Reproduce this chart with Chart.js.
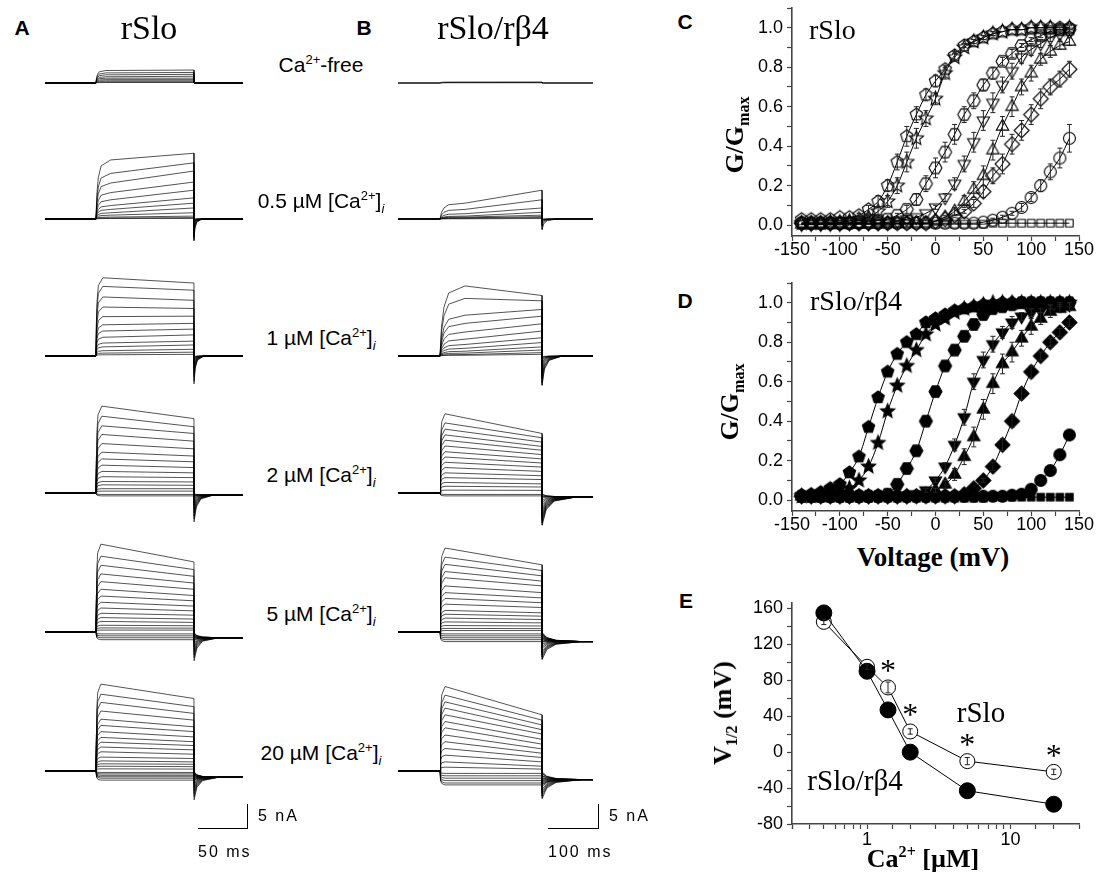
<!DOCTYPE html>
<html>
<head>
<meta charset="utf-8">
<script src="https://cdn.jsdelivr.net/npm/chart.js@4.4.1/dist/chart.umd.min.js"></script>
<style>
  body { margin: 0; background: #fff; overflow: hidden; }
  #fig { position: relative; width: 1101px; height: 876px; }
  #fig canvas { position: absolute; }
  #fig div { position: absolute; white-space: nowrap; line-height: 1; color: #000; }
  sup, sub { font-size: 0.62em; line-height: 0; }
  .sans { font-family: 'Liberation Sans', Arial, sans-serif; }
  .serif { font-family: 'Liberation Serif', 'Times New Roman', serif; }
</style>
</head>
<body>
<div id="fig"></div>
<script>
// ---- current traces (nA), one value per voltage step ----
// A: rSlo, B: rSlo/rb4. "Peak" = level at end of activation, "End" = level at end of the step
const aFreePeak = [2.6, 2.1, 1.7, 1.3, 1.0, 0.7, 0.45, 0.25, 0.1];
const aFreeEnd  = [2.7, 2.2, 1.8, 1.4, 1.0, 0.7, 0.45, 0.25, 0.1];
const a05Peak = [12.3, 9.5, 7.5, 5.5, 4.0, 2.8, 2.0, 1.3, 0.8, 0.4, 0.2, 0.1];
const a05End  = [13.7, 11.7, 10.0, 7.7, 6.0, 4.4, 3.3, 2.3, 1.3, 0.6, 0.3, 0.1];
const a1Peak = [16.3, 14.5, 12.3, 10.2, 8.2, 6.5, 5.2, 3.9, 2.7, 1.9, 1.1, 0.6, 0.25];
const a1End  = [15.2, 13.7, 11.6, 9.9, 8.3, 6.8, 5.6, 4.4, 3.1, 2.3, 1.4, 0.8, 0.35];
const a2Peak = [18.1, 16.0, 14.0, 12.2, 10.3, 8.5, 7.1, 5.8, 4.5, 3.4, 2.4, 1.7, 0.9, 0.4, -0.3, -0.6];
const a2End  = [15.5, 13.8, 12.4, 10.8, 9.2, 7.7, 6.5, 5.3, 4.2, 3.2, 2.3, 1.6, 0.9, 0.4, -0.3, -0.6];
const a5Peak = [18.3, 15.8, 13.9, 12.1, 10.5, 8.9, 7.5, 6.2, 5.0, 3.9, 3.0, 2.2, 1.4, 0.85, 0.4, -0.4, -0.8, -1.2, -1.6];
const a5End  = [14.6, 13.0, 11.6, 10.2, 8.9, 7.6, 6.5, 5.4, 4.4, 3.5, 2.7, 2.0, 1.3, 0.8, 0.4, -0.4, -0.8, -1.2, -1.6];
const a20Peak = [18.1, 16.0, 14.3, 12.5, 10.8, 9.5, 8.2, 7.0, 6.0, 5.0, 4.0, 2.9, 2.1, 1.5, 1.0, 0.45, -0.3, -0.6, -0.9, -1.2, -1.5, -1.9];
const a20End  = [15.1, 13.4, 12.0, 10.6, 9.2, 8.2, 7.1, 6.1, 5.3, 4.4, 3.5, 2.6, 1.9, 1.4, 0.9, 0.4, -0.3, -0.6, -0.9, -1.2, -1.5, -1.9];

const bFreePeak = [0.2, 0.1, 0.05];
const bFreeEnd  = [0.2, 0.12, 0.05];
const b05Peak = [3.3, 2.0, 1.1, 0.6, 0.4, 0.25, 0.15, 0.05];
const b05End  = [6.0, 4.0, 2.3, 1.4, 0.8, 0.5, 0.3, 0.1];
const b1Peak = [14.6, 12.0, 8.5, 6.8, 5.0, 3.5, 2.4, 1.6, 1.0, 0.6, 0.3, 0.15];
const b1End  = [12.6, 11.5, 9.7, 8.3, 6.7, 5.2, 3.8, 2.8, 1.9, 1.25, 0.7, 0.35];
const b2Peak = [16.5, 14.6, 13.3, 12.1, 11.0, 9.8, 8.6, 7.5, 6.4, 5.3, 4.2, 3.2, 2.2, 1.4, 0.6, -0.3, -0.6];
const b2End  = [12.4, 11.5, 10.6, 9.7, 8.9, 8.0, 7.1, 6.25, 5.4, 4.5, 3.6, 2.8, 1.9, 1.25, 0.55, -0.3, -0.6];
const b5Peak = [17.5, 15.6, 14.1, 12.6, 11.3, 9.6, 8.2, 7.0, 5.8, 4.5, 3.7, 2.9, 2.1, 1.35, 0.75, 0.3, -0.4, -0.8, -1.2, -1.6, -2.0];
const b5End  = [14.0, 12.8, 11.7, 10.6, 9.6, 8.2, 7.1, 6.1, 5.1, 4.0, 3.3, 2.6, 1.9, 1.25, 0.7, 0.3, -0.4, -0.8, -1.2, -1.6, -2.0];
const b20Peak = [17.6, 15.8, 14.4, 13.1, 11.7, 10.3, 9.0, 7.5, 6.1, 4.7, 3.3, 1.9, 0.8, -0.5, -1.0, -1.5, -2.0, -2.5, -2.9];
const b20End  = [11.7, 10.6, 9.6, 8.6, 7.7, 6.6, 5.6, 4.6, 3.7, 2.8, 1.9, 1.0, 0.4, -0.5, -1.0, -1.5, -2.0, -2.5, -2.9];

// ---- G/Gmax vs voltage ----
const volts = [-140,-130,-120,-110,-100,-90,-80,-70,-60,-50,-40,-30,-20,-10,0,10,20,30,40,50,60,70,80,90,100,110,120,130,140];
// C: rSlo (open symbols)
const cPent = [0.03,0.03,0.03,0.03,0.04,0.04,0.05,0.08,0.12,0.20,0.32,0.45,0.56,0.66,0.73,0.79,0.86,0.91,0.93,0.95,0.97,0.98,0.99,0.99,1.00,1.00,1.00,1.00,1.00];
const cStar = [0.01,0.01,0.01,0.015,0.015,0.02,0.03,0.04,0.07,0.12,0.20,0.32,0.44,0.54,0.64,0.77,0.85,0.90,0.93,0.95,0.97,0.98,0.99,0.99,1.00,1.00,1.00,0.99,1.00];
const cHex  = [0.01,0.01,0.01,0.01,0.01,0.01,0.015,0.02,0.025,0.03,0.05,0.08,0.13,0.21,0.29,0.37,0.46,0.56,0.63,0.71,0.77,0.83,0.87,0.91,0.94,0.96,0.98,0.99,0.99];
const cTriDn = [0.005,0.005,0.005,0.005,0.005,0.01,0.01,0.01,0.01,0.015,0.02,0.03,0.04,0.06,0.09,0.14,0.21,0.31,0.42,0.53,0.62,0.71,0.78,0.85,0.89,0.92,0.95,0.97,0.98];
const cTriUp = [0.005,0.005,0.005,0.005,0.005,0.005,0.005,0.005,0.005,0.01,0.01,0.01,0.01,0.01,0.02,0.04,0.07,0.12,0.18,0.25,0.38,0.50,0.60,0.70,0.77,0.84,0.88,0.91,0.93];
const cDia  = [0.01,0.01,0.01,0.01,0.01,0.01,0.01,0.01,0.01,0.01,0.01,0.01,0.01,0.01,0.02,0.03,0.05,0.07,0.11,0.17,0.25,0.31,0.41,0.48,0.56,0.64,0.70,0.74,0.79];
const cCirc = [0.01,0.01,0.01,0.01,0.01,0.01,0.01,0.01,0.01,0.01,0.01,0.01,0.01,0.01,0.01,0.01,0.01,0.01,0.01,0.015,0.025,0.04,0.06,0.09,0.14,0.20,0.27,0.34,0.44];
const cSq   = [0.005,0.005,0.005,0.005,0.005,0.005,0.005,0.005,0.005,0.005,0.005,0.005,0.005,0.005,0.005,0.005,0.005,0.005,0.005,0.005,0.01,0.01,0.01,0.01,0.01,0.01,0.01,0.01,0.01];
const cPentErr = [0,0,0,0,0,0,0.01,0.02,0.03,0.03,0.04,0.05,0.04,0.03,0.03,0.02,0.02,0.01,0.01,0.01,0.01,0,0,0,0,0,0,0.01,0.01];
const cStarErr = [0,0,0,0,0,0,0,0.01,0.02,0.03,0.04,0.05,0.05,0.04,0.03,0.03,0.02,0.02,0.01,0.01,0.01,0,0,0,0,0,0,0,0];
const cHexErr  = [0,0,0,0,0,0,0,0,0,0,0.01,0.02,0.03,0.04,0.05,0.05,0.05,0.04,0.04,0.03,0.03,0.02,0.02,0.01,0.01,0.01,0.01,0,0];
const cTriDnErr = [0,0,0,0,0,0,0,0,0,0,0,0,0,0,0.01,0.02,0.03,0.04,0.05,0.05,0.05,0.04,0.04,0.03,0.03,0.02,0.02,0.01,0.01];
const cTriUpErr = [0,0,0,0,0,0,0,0,0,0,0,0,0,0,0,0.01,0.02,0.03,0.04,0.05,0.05,0.05,0.05,0.04,0.04,0.03,0.03,0.02,0.02];
const cDiaErr  = [0,0,0,0,0,0,0,0,0,0,0,0,0,0,0,0,0,0.01,0.02,0.03,0.04,0.05,0.05,0.05,0.05,0.05,0.04,0.04,0.04];
const cCircErr = [0,0,0,0,0,0,0,0,0,0,0,0,0,0,0,0,0,0,0,0,0.01,0.01,0.01,0.02,0.02,0.03,0.04,0.05,0.07];
// D: rSlo/rb4 (filled symbols)
const dPent = [0.025,0.03,0.04,0.06,0.08,0.14,0.22,0.37,0.52,0.65,0.74,0.80,0.84,0.90,0.92,0.94,0.96,0.97,0.98,0.99,0.99,1.0,1.0,1.0,1.0,1.0,1.0,1.0,1.0];
const dStar = [0.02,0.02,0.025,0.03,0.04,0.06,0.10,0.17,0.29,0.45,0.58,0.68,0.76,0.84,0.89,0.92,0.95,0.97,0.98,0.99,1.0,1.0,1.0,1.0,1.0,1.0,1.0,1.0,1.0];
const dHex  = [0.02,0.02,0.02,0.02,0.02,0.02,0.02,0.02,0.02,0.03,0.08,0.16,0.25,0.40,0.55,0.68,0.76,0.83,0.89,0.94,0.97,0.98,0.99,1.0,1.0,1.0,1.0,1.0,1.0];
const dTriDn = [0.02,0.02,0.02,0.02,0.02,0.02,0.02,0.02,0.02,0.02,0.02,0.02,0.03,0.05,0.10,0.17,0.28,0.42,0.60,0.71,0.79,0.85,0.90,0.93,0.95,0.96,0.98,0.99,0.99];
const dTriUp = [0.02,0.02,0.02,0.02,0.02,0.02,0.02,0.02,0.02,0.02,0.02,0.02,0.02,0.03,0.05,0.08,0.13,0.22,0.32,0.46,0.59,0.69,0.75,0.82,0.88,0.92,0.955,0.97,0.98];
const dDia  = [0.02,0.02,0.02,0.02,0.02,0.02,0.02,0.02,0.02,0.02,0.02,0.02,0.02,0.02,0.02,0.02,0.02,0.03,0.06,0.10,0.17,0.28,0.40,0.54,0.65,0.73,0.80,0.85,0.90];
const dCirc = [0.02,0.02,0.02,0.02,0.02,0.02,0.02,0.02,0.02,0.02,0.02,0.02,0.02,0.02,0.02,0.02,0.02,0.02,0.02,0.02,0.02,0.02,0.025,0.03,0.055,0.10,0.15,0.23,0.33];
const dSq   = [0.01,0.01,0.01,0.01,0.01,0.01,0.01,0.01,0.01,0.01,0.01,0.01,0.01,0.01,0.01,0.01,0.01,0.01,0.01,0.01,0.015,0.015,0.015,0.015,0.015,0.015,0.015,0.015,0.015];
const dTriDnErr = [0,0,0,0,0,0,0,0,0,0,0,0,0,0.01,0.01,0.02,0.03,0.04,0.04,0.04,0.04,0.03,0.03,0.02,0.02,0.01,0.01,0.01,0.01];
const dTriUpErr = [0,0,0,0,0,0,0,0,0,0,0,0,0,0,0.01,0.02,0.03,0.04,0.05,0.05,0.05,0.05,0.05,0.04,0.04,0.03,0.03,0.02,0.02];
const dDiaErr   = [0,0,0,0,0,0,0,0,0,0,0,0,0,0,0,0,0,0,0,0.01,0.02,0.03,0.03,0.03,0.03,0.02,0.02,0.02,0.02];

// ---- E: V1/2 vs [Ca2+] ----
const conc = [0.5, 1, 1.4, 2, 5, 20];
const v12Slo = [145, 95, 72, 23, -10, -22];
const v12SloErr = [3, 3, 6, 3, 4, 3];
const v12B4 = [155, 90, 47, 0, -43, -58];
const sigConc = [1.4, 2, 5, 20];

// ---- layout ----
const fig = document.getElementById('fig');
Chart.defaults.font.family = "'Liberation Sans', Arial, sans-serif";
Chart.defaults.color = '#000';

function addCanvas(left, top, w, h) {
  const c = document.createElement('canvas');
  c.width = w; c.height = h;
  c.style.left = left + 'px'; c.style.top = top + 'px';
  fig.appendChild(c);
  return c;
}
function txt(html, x, y, cls, css, mode) {
  const d = document.createElement('div');
  d.className = cls;
  d.innerHTML = html;
  let tf = 'translate(-50%,-50%)';
  if (mode === 'left') tf = 'translate(0,-50%)';
  if (mode === 'rot') tf = 'translate(-50%,-50%) rotate(-90deg)';
  d.style.cssText = `left:${x}px;top:${y}px;transform:${tf};${css || ''}`;
  fig.appendChild(d);
}

// ---- panels A and B ----
const pxPerNA = 24 / 5;       // 5 nA scale bar = 24 px
const baseY = [83, 219, 356, 493, 632, 771];
const rowLabels = ['Ca<sup>2+</sup>-free', '0.5 &micro;M [Ca<sup>2+</sup>]<sub><i>i</i></sub>', '1 &micro;M [Ca<sup>2+</sup>]<sub><i>i</i></sub>',
  '2 &micro;M [Ca<sup>2+</sup>]<sub><i>i</i></sub>', '5 &micro;M [Ca<sup>2+</sup>]<sub><i>i</i></sub>', '20 &micro;M [Ca<sup>2+</sup>]<sub><i>i</i></sub>'];
const colA = { left: 45, pxPerMs: 0.98, t0: 52, t1: 152, tEnd: 202 };
const colB = { left: 398, pxPerMs: 0.5, t0: 84, t1: 288, tEnd: 390 };
const rowsA = [
  { peak: aFreePeak, end: aFreeEnd, rise: 10, tailMin: 0, tailDur: 5, tailLvl: 0 },
  { peak: a05Peak, end: a05End, rise: 15, tailMin: -4.5, tailDur: 8, tailLvl: 0 },
  { peak: a1Peak, end: a1End, rise: 7, tailMin: -5.8, tailDur: 10, tailLvl: 0 },
  { peak: a2Peak, end: a2End, rise: 6, tailMin: -6.0, tailDur: 20, tailLvl: -0.4 },
  { peak: a5Peak, end: a5End, rise: 5, tailMin: -6.0, tailDur: 25, tailLvl: -1.2 },
  { peak: a20Peak, end: a20End, rise: 5, tailMin: -6.0, tailDur: 25, tailLvl: -1.3 }];
const rowsB = [
  { peak: bFreePeak, end: bFreeEnd, rise: 20, tailMin: 0, tailDur: 10, tailLvl: 0 },
  { peak: b05Peak, end: b05End, rise: 50, tailMin: -2.2, tailDur: 30, tailLvl: 0 },
  { peak: b1Peak, end: b1End, rise: 50, tailMin: -6.1, tailDur: 40, tailLvl: 0 },
  { peak: b2Peak, end: b2End, rise: 10, tailMin: -6.7, tailDur: 70, tailLvl: -0.8 },
  { peak: b5Peak, end: b5End, rise: 10, tailMin: -5.7, tailDur: 80, tailLvl: -2.0 },
  { peak: b20Peak, end: b20End, rise: 10, tailMin: -5.7, tailDur: 80, tailLvl: -1.8 }];

const riseShape = [[0.06, 0.42], [0.16, 0.7], [0.35, 0.9], [1, 1]];
const tailShape = [[0.005, 1], [0.12, 0.45], [0.35, 0.15], [1, 0]];

function tracePts(pk, end, maxEnd, col, k) {
  const pts = [{ x: 0, y: 0 }, { x: col.t0, y: 0 }];
  riseShape.forEach(([f, g]) => pts.push({ x: col.t0 + f * k.rise, y: pk * g }));
  pts.push({ x: col.t1, y: end });
  const a = end > 0 ? k.tailMin * end / maxEnd : end;
  tailShape.forEach(([f, g]) => pts.push({ x: col.t1 + f * k.tailDur, y: k.tailLvl + (a - k.tailLvl) * g }));
  pts.push({ x: col.tEnd, y: k.tailLvl });
  return pts;
}

function traceChart(col, row, base) {
  const W = 215, H = 164, above = 100;
  const cv = addCanvas(col.left, base - above, W, H);
  const maxEnd = Math.max(...row.end);
  const datasets = row.peak.map((pk, i) => ({
    data: tracePts(pk, row.end[i], maxEnd, col, row),
    showLine: true, borderColor: 'rgba(0,0,0,0.85)', borderWidth: 0.8, pointRadius: 0, tension: 0
  }));
  new Chart(cv, {
    type: 'scatter',
    data: { datasets },
    options: {
      responsive: false, animation: false, events: [], devicePixelRatio: 1,
      layout: { padding: 0 },
      plugins: { legend: { display: false }, tooltip: { enabled: false } },
      scales: {
        x: { type: 'linear', display: false, min: 0, max: W / col.pxPerMs },
        y: { display: false, min: -(H - above) / pxPerNA, max: above / pxPerNA }
      }
    }
  });
}
rowsA.forEach((r, i) => traceChart(colA, r, baseY[i]));
rowsB.forEach((r, i) => traceChart(colB, r, baseY[i]));
rowLabels.forEach((l, i) => txt(l, 321, baseY[i] - 19, 'sans', 'font-size:21px'));

// scale bars
function scaleBar(left, w, label) {
  const d = document.createElement('div');
  d.style.cssText = `left:${left}px;top:804px;width:${w}px;height:24px;border-right:1.5px solid #000;border-bottom:1.5px solid #000;`;
  fig.appendChild(d);
  txt('5 nA', left + w + 11, 816, 'sans', 'font-size:16px;letter-spacing:2px', 'left');
  txt(label, left, 852, 'sans', 'font-size:16px;letter-spacing:2px', 'left');
}
scaleBar(198, 49, '50 ms');
scaleBar(548, 50, '100 ms');

// ---- markers ----
const polys = { pent: [5, -Math.PI / 2], hex: [6, 0], tdn: [3, Math.PI / 2], tup: [3, -Math.PI / 2], dia: [4, 0], sq: [4, Math.PI / 4] };
function marker(shape, filled, size) {
  const s = size + 4;
  const c = document.createElement('canvas');
  c.width = c.height = s;
  const g = c.getContext('2d');
  g.translate(s / 2, s / 2);
  const r = size / 2;
  g.beginPath();
  if (shape === 'circle') g.arc(0, 0, r * 0.92, 0, 2 * Math.PI);
  else if (shape === 'star') {
    for (let i = 0; i < 10; i++) {
      const a = -Math.PI / 2 + i * Math.PI / 5, rr = i % 2 ? r * 0.45 : r;
      g.lineTo(rr * Math.cos(a), rr * Math.sin(a));
    }
    g.closePath();
  } else {
    const [n, rot] = polys[shape];
    const rr = shape === 'sq' ? r * 0.95 : (n === 3 ? r * 1.1 : r);
    for (let i = 0; i < n; i++) {
      const a = rot + i * 2 * Math.PI / n;
      g.lineTo(rr * Math.cos(a), rr * Math.sin(a));
    }
    g.closePath();
  }
  if (filled) { g.fillStyle = '#000'; g.fill(); }
  g.lineWidth = 1.1; g.strokeStyle = '#000'; g.stroke();
  return c;
}

// ---- plugins ----
const errorBars = {
  id: 'errorBars',
  afterDatasetsDraw(chart) {
    const ctx = chart.ctx, ys = chart.scales.y;
    ctx.save();
    ctx.strokeStyle = '#222'; ctx.lineWidth = 1;
    chart.data.datasets.forEach((ds, i) => {
      if (!ds.err) return;
      chart.getDatasetMeta(i).data.forEach((el, j) => {
        const e = ds.err[j];
        if (!e) return;
        const v = ds.data[j].y;
        const yt = ys.getPixelForValue(v + e), yb = ys.getPixelForValue(v - e);
        ctx.beginPath();
        ctx.moveTo(el.x, yt); ctx.lineTo(el.x, yb);
        ctx.moveTo(el.x - 2.5, yt); ctx.lineTo(el.x + 2.5, yt);
        ctx.moveTo(el.x - 2.5, yb); ctx.lineTo(el.x + 2.5, yb);
        ctx.stroke();
      });
    });
    ctx.restore();
  }
};
const asterisks = {
  id: 'asterisks',
  afterDatasetsDraw(chart) {
    const ctx = chart.ctx, meta = chart.getDatasetMeta(1);
    ctx.save();
    ctx.font = "32px 'Liberation Serif'";
    ctx.textAlign = 'center'; ctx.textBaseline = 'alphabetic';
    sigConc.forEach(c => {
      const el = meta.data[conc.indexOf(c)];
      ctx.fillText('*', el.x, el.y - 6);
    });
    ctx.restore();
  }
};

const tickFont = { family: "'Liberation Sans', Arial, sans-serif", size: 18 };
const axisCol = '#444';
function axisBase(extra) {
  return Object.assign({
    grid: { drawOnChartArea: false, tickLength: 5, color: axisCol, tickWidth: 1.2 },
    border: { color: axisCol, width: 1.6 }
  }, extra);
}
// keep the plot area exactly where the layout puts it
const fixY = w => s => { s.width = w; s.paddingTop = 0; s.paddingBottom = 0; };
const fixX = h => s => { s.height = h; s.paddingLeft = 0; s.paddingRight = 0; };

function gvChart(top, series) {
  const cv = addCanvas(700, top, 400, 266);
  const datasets = series.map(s => ({
    data: volts.map((v, i) => ({ x: v, y: s.vals[i] })),
    err: s.err,
    pointStyle: marker(s.shape, s.filled, s.size || 13),
    pointRadius: 7,
    showLine: true, borderColor: '#000', borderWidth: 1,
    cubicInterpolationMode: 'monotone'
  }));
  new Chart(cv, {
    type: 'scatter',
    data: { datasets },
    options: {
      responsive: false, animation: false, events: [], devicePixelRatio: 1,
      layout: { padding: { top: 8, right: 21, left: 0, bottom: 0 } },
      plugins: { legend: { display: false }, tooltip: { enabled: false } },
      scales: {
        x: axisBase({
          type: 'linear', min: -150, max: 150,
          ticks: { stepSize: 25, autoSkip: false, includeBounds: false, maxRotation: 0, padding: -2, font: tickFont,
            callback: v => (v % 50 === 0 ? String(v) : '') },
          afterFit: fixX(30)
        }),
        y: axisBase({
          min: -0.055, max: 1.1,
          ticks: { stepSize: 0.1, autoSkip: false, includeBounds: false, padding: 4, font: tickFont,
            callback: v => (Math.round(v * 10) % 2 === 0 ? Math.abs(v).toFixed(1) : '') },
          afterFit: fixY(92)
        })
      }
    },
    plugins: [errorBars]
  });
}

gvChart(0, [
  { vals: cPent, err: cPentErr, shape: 'pent', filled: false },
  { vals: cStar, err: cStarErr, shape: 'star', filled: false, size: 15 },
  { vals: cHex, err: cHexErr, shape: 'hex', filled: false },
  { vals: cTriDn, err: cTriDnErr, shape: 'tdn', filled: false },
  { vals: cTriUp, err: cTriUpErr, shape: 'tup', filled: false },
  { vals: cDia, err: cDiaErr, shape: 'dia', filled: false, size: 15 },
  { vals: cCirc, err: cCircErr, shape: 'circle', filled: false },
  { vals: cSq, shape: 'sq', filled: false, size: 11 }
]);
gvChart(275, [
  { vals: dPent, shape: 'pent', filled: true },
  { vals: dStar, shape: 'star', filled: true, size: 15 },
  { vals: dHex, shape: 'hex', filled: true },
  { vals: dTriDn, err: dTriDnErr, shape: 'tdn', filled: true },
  { vals: dTriUp, err: dTriUpErr, shape: 'tup', filled: true },
  { vals: dDia, err: dDiaErr, shape: 'dia', filled: true, size: 15 },
  { vals: dCirc, shape: 'circle', filled: true },
  { vals: dSq, shape: 'sq', filled: true, size: 11 }
]);

// ---- E ----
const cvE = addCanvas(700, 590, 400, 264);
new Chart(cvE, {
  type: 'scatter',
  data: {
    datasets: [
      { data: conc.map((c, i) => ({ x: c, y: v12B4[i] })), showLine: true, borderColor: '#000', borderWidth: 1,
        pointStyle: 'circle', pointRadius: 8, pointBackgroundColor: '#000', pointBorderColor: '#000', tension: 0 },
      { data: conc.map((c, i) => ({ x: c, y: v12Slo[i] })), err: v12SloErr, showLine: true, borderColor: '#000', borderWidth: 1,
        pointStyle: 'circle', pointRadius: 7.5, pointBackgroundColor: '#fff', pointBorderColor: '#000', pointBorderWidth: 1, tension: 0 }
    ]
  },
  options: {
    responsive: false, animation: false, events: [], devicePixelRatio: 1,
    layout: { padding: { top: 13, right: 21, left: 0, bottom: 0 } },
    plugins: { legend: { display: false }, tooltip: { enabled: false } },
    scales: {
      x: axisBase({
        type: 'logarithmic', min: 0.3, max: 30,
        ticks: { autoSkip: false, maxRotation: 0, padding: 0, font: tickFont,
          callback: v => (Math.abs(Math.log10(v) - Math.round(Math.log10(v))) < 1e-6 && v >= 1 ? String(Math.round(v)) : '') },
        afterFit: fixX(30)
      }),
      y: axisBase({
        min: -80, max: 166,
        ticks: { stepSize: 20, autoSkip: false, includeBounds: false, padding: 4, font: tickFont,
          callback: v => (v % 40 === 0 ? String(v) : '') },
        afterFit: fixY(92)
      })
    }
  },
  plugins: [errorBars, asterisks]
});

// ---- text ----
const letter = 'font-size:21px;font-weight:bold';
txt('A', 22, 27, 'sans', letter);
txt('B', 364, 27, 'sans', letter);
txt('C', 685, 21, 'sans', letter);
txt('D', 685, 300, 'sans', letter);
txt('E', 686, 600, 'sans', letter);
txt('rSlo', 149, 28, 'serif', 'font-size:34px');
txt('rSlo/r&beta;4', 493, 28, 'serif', 'font-size:34px');
txt('rSlo', 809, 30, 'serif', 'font-size:28px', 'left');
txt('rSlo/r&beta;4', 810, 301, 'serif', 'font-size:28px', 'left');
txt('rSlo', 981, 712, 'serif', 'font-size:29px');
txt('rSlo/r&beta;4', 855, 780, 'serif', 'font-size:29px');
const axTitle = 'font-size:26px;font-weight:bold';
txt('G/G<sub>max</sub>', 735, 135, 'serif', axTitle, 'rot');
txt('G/G<sub>max</sub>', 730, 402, 'serif', axTitle, 'rot');
txt('Voltage (mV)', 933, 557, 'serif', 'font-size:27px;font-weight:bold');
txt('V<sub>1/2</sub> (mV)', 723, 713, 'serif', axTitle, 'rot');
txt('Ca<sup>2+</sup> [&micro;M]', 923, 859, 'serif', axTitle);
</script>
</body>
</html>
